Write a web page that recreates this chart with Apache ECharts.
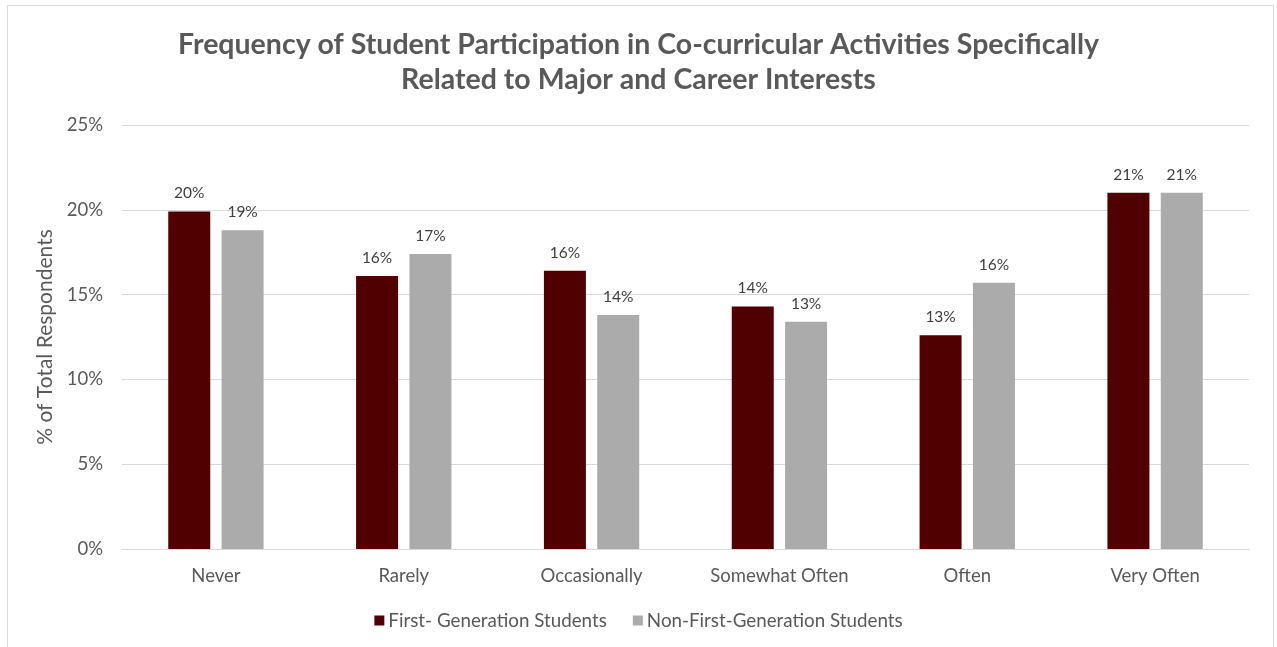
<!DOCTYPE html>
<html>
<head>
<meta charset="utf-8">
<script src="https://cdn.jsdelivr.net/npm/echarts@6/dist/echarts.min.js"></script>
<style>
  html, body { margin: 0; padding: 0; background: #ffffff; }
  #frame { position: absolute; left: 7px; top: 5px; width: 1267px; height: 700px; border: 1px solid #d9d9d9; box-sizing: border-box; }
  #chart { width: 1277px; height: 647px; position: absolute; left: 0; top: 0; }
</style>
</head>
<body>
<div id="frame"></div>
<div id="chart"></div>
<script>
// Frequency categories and the share of respondents (in %) for each group
const categories = ['Never', 'Rarely', 'Occasionally', 'Somewhat Often', 'Often', 'Very Often'];
const firstGen = [19.9, 16.1, 16.4, 14.3, 12.6, 21.0];
const nonFirstGen = [18.8, 17.4, 13.8, 13.4, 15.7, 21.0];
const seriesNames = ['First- Generation Students', 'Non-First-Generation Students'];
const yTicks = { min: 0, max: 25, interval: 5 };

const FONT = 'Lato, "Open Sans", sans-serif';
const chart = echarts.init(document.getElementById('chart'), null, { renderer: 'canvas' });

const pctLabel = {
  show: true,
  position: 'top',
  distance: 10,
  color: '#404040',
  fontFamily: FONT,
  fontSize: 15.5,
  formatter: p => Math.round(p.value) + '%'
};

chart.setOption({
  backgroundColor: 'transparent',
  animation: false,
  title: {
    text: 'Frequency of Student Participation in Co-curricular Activities Specifically\nRelated to Major and Career Interests',
    left: 'center',
    top: 22,
    textStyle: {
      fontFamily: FONT,
      fontWeight: 'bold',
      fontSize: 28.5,
      lineHeight: 35,
      color: '#595959'
    }
  },
  legend: {
    bottom: 12,
    left: 'center',
    itemWidth: 10,
    itemHeight: 10,
    itemGap: 26,
    icon: 'rect',
    textStyle: { fontFamily: FONT, fontSize: 18.8, color: '#595959', padding: [0, 0, 0, -1] },
    data: seriesNames
  },
  grid: { left: 122, right: 28, top: 125, bottom: 98 },
  xAxis: {
    type: 'category',
    data: categories,
    axisLine: { lineStyle: { color: '#d9d9d9', width: 1 } },
    axisTick: { show: false },
    axisLabel: { fontFamily: FONT, fontSize: 18.5, color: '#595959', margin: 18 }
  },
  yAxis: {
    type: 'value',
    min: yTicks.min,
    max: yTicks.max,
    interval: yTicks.interval,
    name: '% of Total Respondents',
    nameLocation: 'middle',
    nameGap: 63,
    nameTextStyle: { fontFamily: FONT, fontSize: 21, color: '#595959' },
    axisLine: { show: false },
    axisTick: { show: false },
    axisLabel: { fontFamily: FONT, fontSize: 18.5, color: '#595959', margin: 19, formatter: '{value}%' },
    splitLine: { lineStyle: { color: '#d9d9d9', width: 1 } }
  },
  series: [
    {
      name: seriesNames[0],
      type: 'bar',
      data: firstGen,
      barWidth: 42,
      barGap: '27%',
      itemStyle: { color: '#500000' },
      label: pctLabel
    },
    {
      name: seriesNames[1],
      type: 'bar',
      data: nonFirstGen,
      barWidth: 42,
      itemStyle: { color: '#ababab' },
      label: pctLabel
    }
  ]
});
</script>
</body>
</html>
